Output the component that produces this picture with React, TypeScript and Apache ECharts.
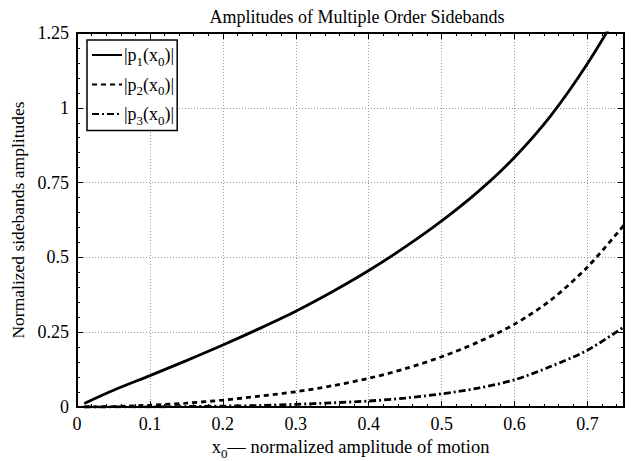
import React, { useEffect, useRef } from "react";
import * as echarts from "echarts";

const xValues = [0.01, 0.05, 0.1, 0.15, 0.2, 0.25, 0.3, 0.35, 0.4, 0.45, 0.5, 0.55, 0.6, 0.65, 0.7, 0.75];
const p1Values = [0.012, 0.056, 0.105, 0.155, 0.207, 0.262, 0.32, 0.385, 0.456, 0.535, 0.622, 0.72, 0.835, 0.975, 1.148, 1.35];
const p2Values = [0.0001, 0.0015, 0.006, 0.013, 0.023, 0.036, 0.051, 0.071, 0.096, 0.128, 0.168, 0.217, 0.277, 0.358, 0.468, 0.608];
const p3Values = [0, 0.0001, 0.0005, 0.0015, 0.003, 0.005, 0.009, 0.014, 0.02, 0.03, 0.044, 0.063, 0.091, 0.136, 0.19, 0.268];
const seriesNames = ["p1", "p2", "p3"];
const legendLabels: Record<string, string> = {
  p1: "|p{sub|1}(x{sub|0})|",
  p2: "|p{sub|2}(x{sub|0})|",
  p3: "|p{sub|3}(x{sub|0})|",
};
const yTickLabels = ["0", "0.25", "0.5", "0.75", "1", "1.25"];

const FONT = "Liberation Serif";

export default function App() {
  const ref = useRef<HTMLDivElement>(null);
  useEffect(() => {
    if (!ref.current) return;
    const chart = echarts.init(ref.current, undefined, { renderer: "svg" });
    const pairs = (vals: number[]) => xValues.map((x, i) => [x, vals[i]]);
    const tickCommon = {
      axisTick: { show: true, inside: true, length: 6, lineStyle: { color: "#000", width: 1 } },
      minorTick: { show: true, splitNumber: 5, length: 3, lineStyle: { color: "#000", width: 1 } },
      axisLine: { show: true, onZero: false, lineStyle: { color: "#000", width: 2 } },
    };
    const sub = { fontSize: 13, fontFamily: FONT, color: "#000", padding: [12, 0, 0, 0] };
    chart.setOption({
      animation: false,
      backgroundColor: "#fff",
      title: {
        text: "Amplitudes of Multiple Order Sidebands",
        left: 352,
        textAlign: "center",
        top: 3,
        textStyle: { fontFamily: FONT, fontSize: 18, fontWeight: "normal", color: "#000" },
      },
      grid: { left: 77, right: 7, top: 33, bottom: 54, containLabel: false, outerBoundsMode: "none" },
      legend: {
        left: 87,
        top: 40,
        orient: "vertical",
        data: seriesNames,
        itemWidth: 30,
        itemHeight: 14,
        itemGap: 8,
        backgroundColor: "#fff",
        borderColor: "#000",
        borderWidth: 1.5,
        borderRadius: 0,
        padding: [6, 3, 4, 4],
        itemStyle: { color: "transparent", borderColor: "transparent", borderWidth: 0 },
        formatter: (name: string) => legendLabels[name],
        textStyle: {
          fontFamily: FONT,
          fontSize: 18,
          color: "#000",
          padding: [0, 0, 0, -3],
          rich: { sub },
        },
      },
      xAxis: [
        {
          type: "value",
          min: 0,
          max: 0.75,
          interval: 0.1,
          position: "bottom",
          name: "x{sub|0}— normalized amplitude of motion",
          nameLocation: "middle",
          nameGap: 27,
          nameTextStyle: { fontFamily: FONT, fontSize: 18.5, color: "#000", rich: { sub } },
          axisLabel: { showMaxLabel: false, fontFamily: FONT, fontSize: 18, color: "#000", margin: 8 },
          splitLine: { show: true, lineStyle: { color: "#999", type: [1, 2], width: 1 } },
          ...tickCommon,
        },
        {
          type: "value",
          min: 0,
          max: 0.75,
          interval: 0.1,
          position: "top",
          axisLabel: { show: false },
          splitLine: { show: false },
          ...tickCommon,
        },
      ],
      yAxis: [
        {
          type: "value",
          min: 0,
          max: 1.25,
          interval: 0.25,
          position: "left",
          name: "Normalized sidebands amplitudes",
          nameLocation: "middle",
          nameGap: 47,
          nameTextStyle: { fontFamily: FONT, fontSize: 17.5, color: "#000" },
          axisLabel: {
            fontFamily: FONT,
            fontSize: 18,
            color: "#000",
            margin: 8,
            formatter: (v: number) => yTickLabels[Math.round(v / 0.25)] ?? String(v),
          },
          splitLine: { show: true, lineStyle: { color: "#999", type: [1, 2], width: 1 } },
          ...tickCommon,
        },
        {
          type: "value",
          min: 0,
          max: 1.25,
          interval: 0.25,
          position: "right",
          axisLabel: { show: false },
          splitLine: { show: false },
          ...tickCommon,
        },
      ],
      series: [
        {
          name: "p1",
          type: "line",
          data: pairs(p1Values),
          smooth: 0.3,
          symbol: "none",
          clip: true,
          lineStyle: { color: "#000", width: 2.8, type: "solid" },
          itemStyle: { color: "#000" },
        },
        {
          name: "p2",
          type: "line",
          data: pairs(p2Values),
          smooth: 0.3,
          symbol: "none",
          clip: true,
          lineStyle: { color: "#000", width: 2.8, type: [5, 4] },
          itemStyle: { color: "#000" },
        },
        {
          name: "p3",
          type: "line",
          data: pairs(p3Values),
          smooth: 0.3,
          symbol: "none",
          clip: true,
          lineStyle: { color: "#000", width: 2.8, type: [7, 3, 2, 3] },
          itemStyle: { color: "#000" },
        },
      ],
    });
    return () => chart.dispose();
  }, []);
  return (
    <div
      ref={ref}
      style={{ position: "fixed", left: 0, top: 0, width: 631, height: 461, background: "#fff" }}
    />
  );
}
